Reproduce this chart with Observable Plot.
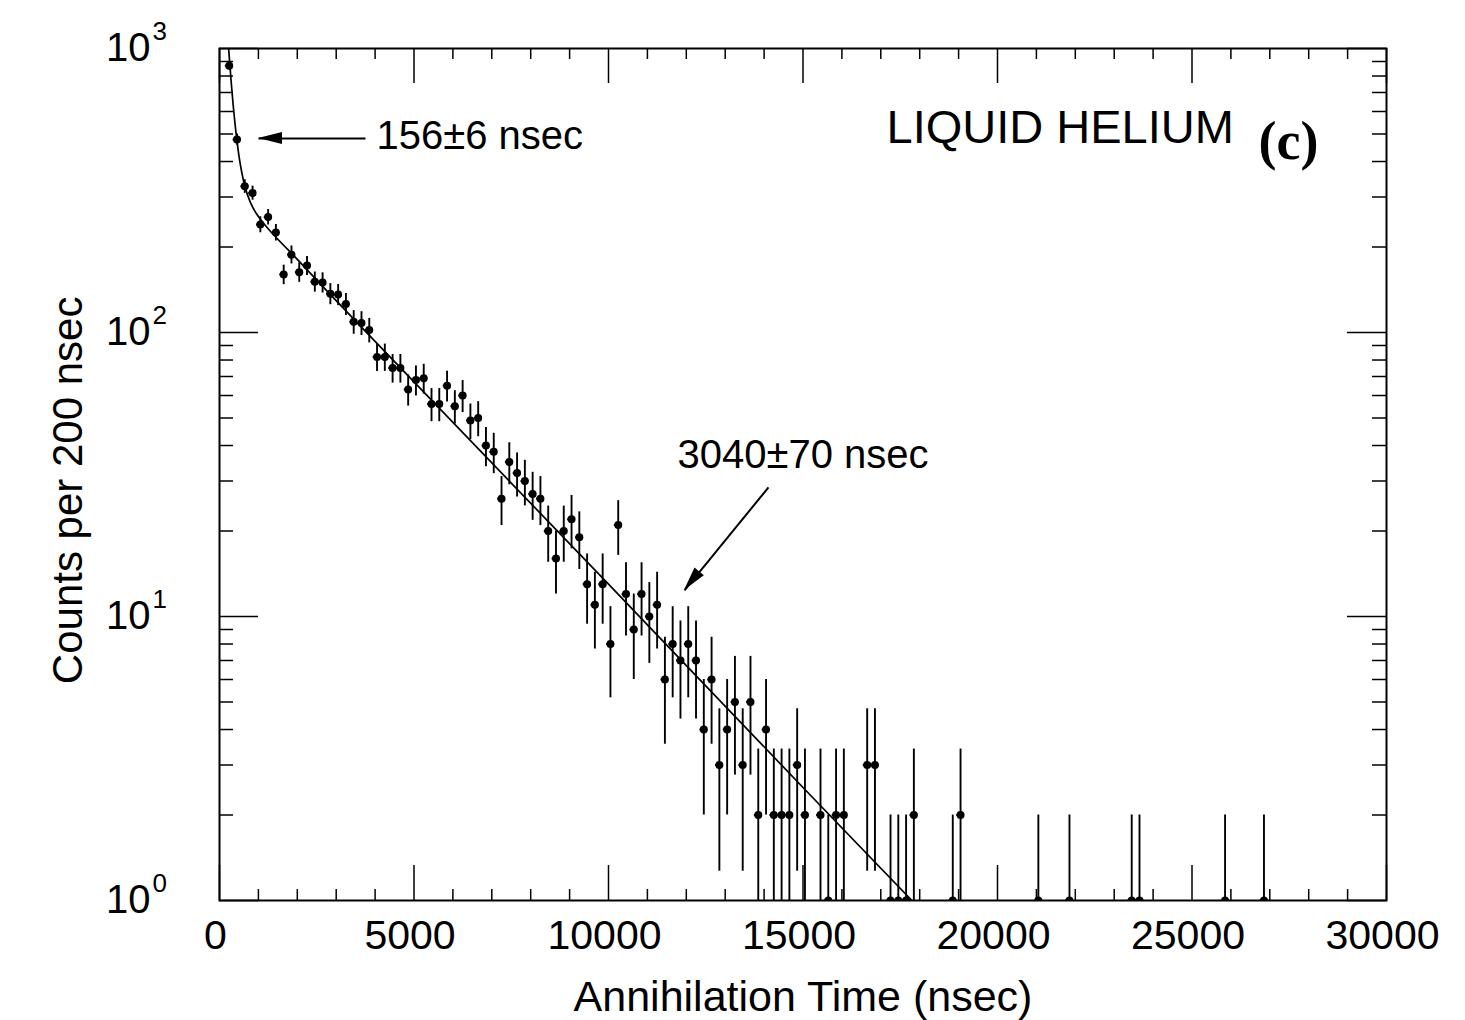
<!DOCTYPE html>
<html>
<head>
<meta charset="utf-8">
<script src="https://cdn.jsdelivr.net/npm/d3@7"></script>
<script src="https://cdn.jsdelivr.net/npm/@observablehq/plot@0.6"></script>
<style>
  html, body { margin: 0; padding: 0; background: #fff; }
  #chart svg { display: block; }
</style>
</head>
<body>
<div id="chart"></div>
<script>
// ---- Data (bin centres in nsec, counts per 200 nsec) ----
const binTime = [
  250, 450, 650, 850, 1050, 1250, 1450, 1650, 1850, 2050,
  2250, 2450, 2650, 2850, 3050, 3250, 3450, 3650, 3850, 4050,
  4250, 4450, 4650, 4850, 5050, 5250, 5450, 5650, 5850, 6050,
  6250, 6450, 6650, 6850, 7050, 7250, 7450, 7650, 7850, 8050,
  8250, 8450, 8650, 8850, 9050, 9250, 9450, 9650, 9850, 10050,
  10250, 10450, 10650, 10850, 11050, 11250, 11450, 11650, 11850, 12050,
  12250, 12450, 12650, 12850, 13050, 13250, 13450, 13650, 13850, 14050,
  14250, 14450, 14650, 14850, 15050, 15450, 15650, 15850, 16050, 16650,
  16850, 17250, 17450, 17650, 17850, 18850, 19050, 21050, 21850, 23450,
  23650, 25850, 26850
];
const counts = [
  870, 478, 327, 310, 240, 255, 225, 160, 188, 163,
  172, 151, 150, 137, 136, 126, 109, 108, 102, 82,
  82, 75, 75, 63, 68, 69, 56, 56, 65, 55,
  60, 49, 50, 40, 38, 26, 35, 32, 30, 27,
  26, 20, 16, 20, 22, 19, 13, 11, 13, 8,
  21, 12, 9, 12, 10, 11, 6, 8, 7, 8,
  7, 4, 6, 3, 4, 5, 3, 5, 2, 4,
  2, 2, 2, 3, 2, 2, 1, 2, 2, 3,
  3, 1, 1, 1, 2, 1, 2, 1, 1, 1,
  1, 1, 1
];
const binHalfWidth = 100;

// Fitted two-lifetime curve
const fitTime  = [235, 260, 300, 350, 400, 450, 500, 575, 650, 800, 1000, 1250, 1500, 2000, 2500, 5000, 10000, 15000, 17800];
const fitCount = [1000, 899, 764, 635, 541, 472, 419, 365, 328, 286, 256, 232, 213, 181, 153, 67, 13, 2.5, 1.0];

// Axis ticks
const xMajorTicks = [0, 5000, 10000, 15000, 20000, 25000, 30000];
const xMinorTicks = [1000, 2000, 3000, 4000, 6000, 7000, 8000, 9000, 11000, 12000, 13000, 14000,
                     16000, 17000, 18000, 19000, 21000, 22000, 23000, 24000, 26000, 27000, 28000, 29000];
const yMajorTicks = [1, 10, 100, 1000];
const yExponents  = ["0", "1", "2", "3"];
const yMinorTicks = [2, 3, 4, 5, 6, 7, 8, 9, 20, 30, 40, 50, 60, 70, 80, 90, 200, 300, 400, 500, 600, 700, 800, 900];

// Annotations (anchored in data coordinates)
const labelShort = {text: "156±6 nsec", t: 4036, n: 490};
const labelLong  = {text: "3040±70 nsec", t: 11774, n: 36.9};
const labelTitle = {text: "LIQUID HELIUM", t: 17147, n: 523};
const labelPanel = {text: "(c)", t: 26710, n: 470};
const arrows = [
  {t1: 3753, n1: 482, t2: 1003, n2: 482},
  {t1: 14113, n1: 28.5, t2: 11954, n2: 12.35}
];
const xTitle = {text: "Annihilation Time (nsec)", t: 15000};
const yTitle = {text: "Counts per 200 nsec", n: 27.8};

// ---- Build ----
const data = binTime.map((t, i) => {
  const n = counts[i], e = Math.sqrt(n);
  return {t, n, lo: Math.max(n - e, 0.5), hi: n + e};
});
const fit = fitTime.map((t, i) => ({t, n: fitCount[i]}));

const W = 1465, H = 1020;
const mL = 219, mR = 79, mT = 48, mB = 120;
const innerW = W - mL - mR, innerH = H - mT - mB;
const font = "'Liberation Sans', Arial, Helvetica, sans-serif";

const chart = Plot.plot({
  width: W, height: H,
  marginLeft: mL, marginRight: mR, marginTop: mT, marginBottom: mB,
  style: {fontFamily: font, background: "white", color: "black"},
  x: {domain: [0, 30000], axis: null},
  y: {type: "log", domain: [1, 1000], axis: null},
  marks: [
    // fit curve
    Plot.line(fit, {x: "t", y: "n", curve: "monotone-x", stroke: "black", strokeWidth: 1.7, clip: true}),
    // vertical error bars
    Plot.ruleX(data, {x: "t", y1: "lo", y2: "hi", stroke: "black", strokeWidth: 1.9, clip: true}),
    // horizontal bin-width bars
    Plot.ruleY(data, {y: "n", x1: d => d.t - binHalfWidth, x2: d => d.t + binHalfWidth, stroke: "black", strokeWidth: 1.9, clip: true}),
    // points
    Plot.dot(data, {x: "t", y: "n", r: 4, fill: "black", stroke: "none", clip: true}),

    // ticks (inside, mirrored)
    Plot.ruleX(xMajorTicks, {x: d => d, insetTop: innerH - 35, stroke: "black", strokeWidth: 1.5}),
    Plot.ruleX(xMinorTicks, {x: d => d, insetTop: innerH - 11, stroke: "black", strokeWidth: 1.5}),
    Plot.ruleX(xMajorTicks, {x: d => d, insetBottom: innerH - 35, stroke: "black", strokeWidth: 1.5}),
    Plot.ruleX(xMinorTicks, {x: d => d, insetBottom: innerH - 11, stroke: "black", strokeWidth: 1.5}),
    Plot.ruleY(yMajorTicks, {y: d => d, insetRight: innerW - 39, stroke: "black", strokeWidth: 1.5}),
    Plot.ruleY(yMinorTicks, {y: d => d, insetRight: innerW - 14, stroke: "black", strokeWidth: 1.5}),
    Plot.ruleY(yMajorTicks, {y: d => d, insetLeft: innerW - 39, stroke: "black", strokeWidth: 1.5}),
    Plot.ruleY(yMinorTicks, {y: d => d, insetLeft: innerW - 14, stroke: "black", strokeWidth: 1.5}),
    Plot.frame({stroke: "black", strokeWidth: 2}),

    // x tick labels
    Plot.text(xMajorTicks, {x: d => d, text: d => String(d), frameAnchor: "bottom", dy: 35, dx: -4,
      textAnchor: "middle", lineAnchor: "middle", fontSize: 41, fill: "black"}),
    // y tick labels 10^k
    Plot.text(yMajorTicks, {y: d => d, text: () => "10", frameAnchor: "left", dx: -69,
      textAnchor: "end", lineAnchor: "middle", fontSize: 40, fill: "black"}),
    Plot.text(yMajorTicks, {y: d => d, text: (d, i) => yExponents[i], frameAnchor: "left", dx: -67, dy: -17,
      textAnchor: "start", lineAnchor: "middle", fontSize: 26, fill: "black"}),

    // axis titles
    Plot.text([xTitle], {x: "t", text: "text", frameAnchor: "bottom", dy: 97, textAnchor: "middle", lineAnchor: "middle",
      fontSize: 43, fill: "black"}),
    Plot.text([yTitle], {y: "n", text: "text", frameAnchor: "left", dx: -151, rotate: -90,
      textAnchor: "middle", lineAnchor: "middle", fontSize: 42, fill: "black"}),

    // annotations
    Plot.link(arrows, {x1: "t1", y1: "n1", x2: "t2", y2: "n2", stroke: "black", strokeWidth: 2}),
    Plot.text([labelShort], {x: "t", y: "n", text: "text", textAnchor: "start", lineAnchor: "middle", fontSize: 40, fill: "black"}),
    Plot.text([labelLong], {x: "t", y: "n", text: "text", textAnchor: "start", lineAnchor: "middle", fontSize: 40, fill: "black"}),
    Plot.text([labelTitle], {x: "t", y: "n", text: "text", textAnchor: "start", lineAnchor: "middle", fontSize: 47, fill: "black"}),
    Plot.text([labelPanel], {x: "t", y: "n", text: "text", textAnchor: "start", lineAnchor: "middle", fontSize: 54,
      fontWeight: "bold", fontFamily: "'Liberation Serif', 'Times New Roman', serif", fill: "black"})
  ]
});

// filled arrowheads, positioned through Plot's own scales
const sx = chart.scale("x"), sy = chart.scale("y");
const svg = d3.select(chart);
for (const a of arrows) {
  const x1 = sx.apply(a.t1), y1 = sy.apply(a.n1), x2 = sx.apply(a.t2), y2 = sy.apply(a.n2);
  const ang = Math.atan2(y2 - y1, x2 - x1);
  const L = 24, w = 6;
  const bx = x2 - L * Math.cos(ang), by = y2 - L * Math.sin(ang);
  const px = -Math.sin(ang) * w, py = Math.cos(ang) * w;
  svg.append("path")
    .attr("d", `M${x2},${y2}L${bx + px},${by + py}L${bx - px},${by - py}Z`)
    .attr("fill", "black");
}

document.getElementById("chart").appendChild(chart);
</script>
</body>
</html>
